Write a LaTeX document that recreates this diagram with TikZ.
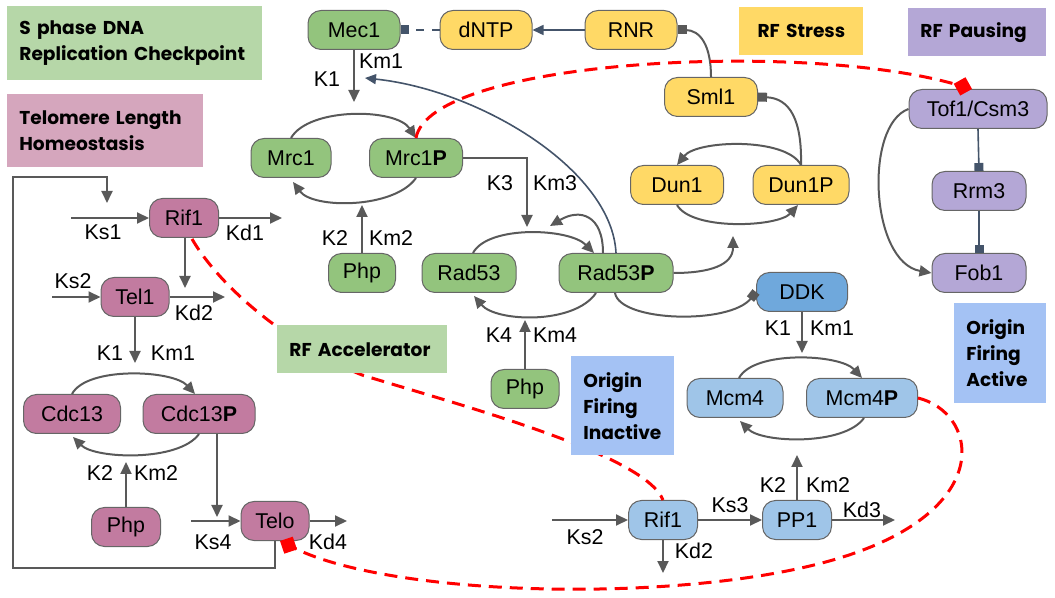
\documentclass[tikz,border=0pt]{standalone}
\usepackage{fontspec}
\setmainfont{Liberation Sans}
\newfontfamily\headfont{Poppins}
\usetikzlibrary{arrows.meta,calc,positioning}

\definecolor{nodegreen}{HTML}{93C47D}
\definecolor{nodeyellow}{HTML}{FFD966}
\definecolor{nodepink}{HTML}{C27BA0}
\definecolor{nodepurple}{HTML}{B4A7D6}
\definecolor{nodelblue}{HTML}{9FC5E8}
\definecolor{nodedblue}{HTML}{6FA8DC}
\definecolor{boxgreen}{HTML}{B6D7A8}
\definecolor{boxpink}{HTML}{D5A6BD}
\definecolor{boxblue}{HTML}{A4C2F4}
\definecolor{edgegray}{HTML}{666666}
\definecolor{arrowgray}{HTML}{595959}
\definecolor{slate}{HTML}{44546A}
\definecolor{crossred}{HTML}{FF0000}

\tikzset{
  species/.style={draw=edgegray, line width=0.5pt, rounded corners=6.5pt,
    minimum height=19.5pt, inner sep=0pt, font=\fontsize{10.7}{12}\selectfont},
  grn/.style={species, fill=nodegreen},
  ylw/.style={species, fill=nodeyellow},
  pnk/.style={species, fill=nodepink},
  prp/.style={species, fill=nodepurple},
  lbl/.style={species, fill=nodelblue},
  dbl/.style={species, fill=nodedblue},
  module/.style={anchor=north west, inner xsep=6pt, inner ysep=0pt, align=left,
    font=\headfont\fontsize{9.3}{13}\selectfont\bfseries},
  rate/.style={inner sep=0pt, font=\fontsize{10.7}{12}\selectfont},
  flow/.style={draw=arrowgray, line width=1pt, -{Triangle[length=6pt,width=5.5pt]}},
  hold/.style={draw=arrowgray, line width=1pt, -{Square[length=4.5pt,width=4.5pt]}},
  blueflow/.style={draw=slate, line width=0.8pt, -{Triangle[length=5.5pt,width=5pt]}},
  bluehold/.style={draw=slate, line width=0.8pt, -{Square[length=4pt,width=4.5pt]}},
  crosstalk/.style={draw=crossred, line width=1.5pt, dash pattern=on 6.5pt off 4pt},
  redtip/.style={-{Diamond[length=9.5pt,width=9.5pt]}},
}

\begin{document}
\begin{tikzpicture}[x=0.5pt,y=-0.5pt]
\useasboundingbox (0,0) rectangle (1055,598);

% S phase checkpoint
\node[grn, minimum width=46pt] (mec) at (354,30) {Mec1};
\node[grn, minimum width=40pt] (mrc) at (291,158) {Mrc1};
\node[grn, minimum width=46.5pt] (mrcp) at (416,158) {Mrc1\textbf{P}};
\node[grn, minimum width=33.5pt] (phpa) at (362,273) {Php};
\node[grn, minimum width=47pt] (rad) at (469,273) {Rad53};
\node[grn, minimum width=57pt] (radp) at (616,273) {Rad53\textbf{P}};
\node[grn, minimum width=34pt] (phpb) at (525,389) {Php};

% RF stress
\node[ylw, minimum width=46pt] (dntp) at (486,30) {dNTP};
\node[ylw, minimum width=46pt] (rnr) at (631,30) {RNR};
\node[ylw, minimum width=46.5pt] (sml) at (711,97) {Sml1};
\node[ylw, minimum width=46.5pt] (dun) at (677,185) {Dun1};
\node[ylw, minimum width=48pt] (dunp) at (801,185) {Dun1P};

% RF pausing
\node[prp, minimum width=69pt] (tof) at (978,109) {Tof1/Csm3};
\node[prp, minimum width=47pt] (rrm) at (979,191) {Rrm3};
\node[prp, minimum width=47pt] (fob) at (979,273) {Fob1};

% Origin firing
\node[dbl, minimum width=45.5pt] (ddk) at (802,292) {DDK};
\node[lbl, minimum width=48pt] (mcm) at (735,398) {Mcm4};
\node[lbl, minimum width=55.5pt] (mcmp) at (862,398) {Mcm4\textbf{P}};
\node[lbl, minimum width=34.5pt] (rifb) at (663,520) {Rif1};
\node[lbl, minimum width=34.5pt] (pp) at (797,520) {PP1};

% Telomere length
\node[pnk, minimum width=34.5pt] (rifa) at (184,218) {Rif1};
\node[pnk, minimum width=34pt] (tel) at (135,297) {Tel1};
\node[pnk, minimum width=48.5pt] (cdc) at (72,414) {Cdc13};
\node[pnk, minimum width=56pt] (cdcp) at (199,414) {Cdc13\textbf{P}};
\node[pnk, minimum width=34.5pt] (phpc) at (126,527) {Php};
\node[pnk, minimum width=34pt] (telo) at (275,521) {Telo};

% free ends
\coordinate (mrcin) at (354,102);
\coordinate (mrcout) at (362,205);
\coordinate (radin) at (527,227);
\coordinate (radout) at (525,320);
\coordinate (radself) at (550,226);
\coordinate (mecin) at (365,78);
\coordinate (dunin) at (733,236);
\coordinate (mcmin) at (802,353);
\coordinate (mcmout) at (797,455);
\coordinate (ksb) at (552,520);
\coordinate (kdb) at (663,573);
\coordinate (kdc) at (895,520);
\coordinate (ksa) at (71,218);
\coordinate (kda) at (282,218);
\coordinate (telin) at (185,288);
\coordinate (kse) at (52,297);
\coordinate (kde) at (225,297);
\coordinate (cdcin) at (135,363);
\coordinate (cdcout) at (126,462);
\coordinate (teloin) at (217,517);
\coordinate (ksf) at (191,521);
\coordinate (kdf) at (347,521);
\coordinate (loopbl) at (13,568);
\coordinate (looptl) at (13,177);
\coordinate (rifin) at (107,203);

% Mec1 / Mrc1 cycle
\draw[flow] (mec.south) -- (mrcin);
\draw[flow] (mrc.north) .. controls +(18,-31) and +(-20,-30) .. (mrcp.north);
\draw[flow] (mrcp.south) .. controls +(-22,31) and +(20,27) .. ($(mrc.south)+(2,4)$);
\draw[flow] (phpa.north) -- (mrcout);
\node[rate] (k1a) at (327,79) {K1};
\node[rate] (km1a) at (381,61) {Km1};
\node[rate] (k2a) at (335,238) {K2};
\node[rate] (km2a) at (391,238) {Km2};

% Rad53 cycle
\draw[flow] (mrcp.east) -| (radin);
\draw[flow] ($(rad.north)+(4,0)$) .. controls +(15,-28) and +(-25,-25) .. ($(radp.north)+(-22,0)$);
\draw[flow] ($(radp.south)+(-20,0)$) .. controls +(-22,32) and +(22,26) .. ($(rad.south)+(5,3)$);
\draw[flow] (phpb.north) -- (radout);
\draw[flow] ($(radp.north)+(-13,0)$) .. controls (603,215) and (580,208) .. (radself);
\draw[blueflow] (radp.north) .. controls (612,170) and (480,90) .. (mecin);
\draw[flow] (radp.east) .. controls (710,273) and (733,265) .. (dunin);
\draw[hold] ($(radp.south)+(-1,0)$) .. controls (620,322) and (730,325) .. (ddk.west);
\node[rate] (k3a) at (500,183) {K3};
\node[rate] (km3a) at (555,183) {Km3};
\node[rate] (k4a) at (499,335) {K4};
\node[rate] (km4a) at (555,335) {Km4};

% Dun1 cycle and RNR
\draw[flow] (dunp.north) .. controls +(-15,-28) and +(20,-25) .. (dun.north);
\draw[flow] (dun.south) .. controls +(15,26) and +(-20,22) .. ($(dunp.south)+(-3,0)$);
\draw[hold] (dunp.north) .. controls (802,120) and (790,98) .. (sml.east);
\draw[hold] (sml.north) .. controls (711,45) and (700,30) .. (rnr.east);
\draw[blueflow] (rnr.west) -- (dntp.east);
\draw[bluehold, dash pattern=on 4pt off 4pt] (dntp.west) -- (mec.east);

% Tof1 / Rrm3 / Fob1
\draw[bluehold] (tof.south) -- (rrm.north);
\draw[bluehold] (rrm.south) -- (fob.north);
\draw[flow] (tof.west) .. controls (864,125) and (870,262) .. (fob.west);

% Mcm4 cycle
\draw[flow] (ddk.south) -- (mcmin);
\draw[flow] ($(mcm.north)+(4,0)$) .. controls +(15,-28) and +(-22,-24) .. (mcmp.north);
\draw[flow] ($(mcmp.south)+(2,0)$) .. controls +(-20,28) and +(22,22) .. ($(mcm.south)+(5,3)$);
\draw[flow] (pp.north) -- (mcmout);
\draw[flow] (ksb) -- (rifb.west);
\draw[flow] (rifb.east) -- (pp.west);
\draw[flow] (rifb.south) -- (kdb);
\draw[flow] (pp.east) -- (kdc);
\node[rate] (k1b) at (778,328) {K1};
\node[rate] (km1b) at (832,328) {Km1};
\node[rate] (k2b) at (773,485) {K2};
\node[rate] (km2b) at (828,485) {Km2};
\node[rate] (ks2b) at (585,537) {Ks2};
\node[rate] (ks3b) at (730,505) {Ks3};
\node[rate] (kd2b) at (694,551) {Kd2};
\node[rate] (kd3b) at (862,510) {Kd3};

% Telomere
\draw[flow] (ksa) -- (rifa.west);
\draw[flow] (rifa.east) -- (kda);
\draw[flow] (rifa.south -| telin) -- (telin);
\draw[flow] (kse) -- (tel.west);
\draw[flow] (tel.east) -- (kde);
\draw[flow] (tel.south) -- (cdcin);
\draw[flow] (cdc.north) .. controls +(15,-28) and +(-22,-24) .. ($(cdcp.north)+(-4,0)$);
\draw[flow] (cdcp.south) .. controls +(-20,28) and +(22,22) .. ($(cdc.south)+(1,3)$);
\draw[flow] (phpc.north) -- (cdcout);
\draw[flow] (cdcp.south -| teloin) -- (teloin);
\draw[flow] (ksf) -- (telo.west);
\draw[flow] (telo.east) -- (kdf);
\draw[flow] (telo.south) |- (loopbl) -- (looptl) -| (rifin);
\node[rate] (ks1a) at (103,232) {Ks1};
\node[rate] (kd1a) at (245,233) {Kd1};
\node[rate] (ks2a) at (73,281) {Ks2};
\node[rate] (kd2a) at (194,313) {Kd2};
\node[rate] (k1c) at (110,353) {K1};
\node[rate] (km1c) at (173,353) {Km1};
\node[rate] (k2c) at (100,473) {K2};
\node[rate] (km2c) at (156,473) {Km2};
\node[rate] (ks4a) at (213,542) {Ks4};
\node[rate] (kd4a) at (328,542) {Kd4};

% cross-talk
\draw[crosstalk, redtip] (mrcp.north) .. controls (430,60) and (800,40) .. ($(tof.north)+(-6,0)$);
\draw[crosstalk] ($(rifa.south)+(8,1)$) .. controls (225,295) and (300,350) .. (362,375)
  .. controls (470,408) and (645,455) .. (rifb.north);
\draw[crosstalk, redtip] (mcmp.east) .. controls (975,412) and (995,500) .. (863,550)
  .. controls (720,605) and (400,600) .. ($(telo.south)+(5,0)$);

% Modules
\node[module, fill=boxgreen, text width=115.5pt, minimum height=37pt] (sphase) at (7,6)
  {S phase DNA\\Replication Checkpoint};
\node[module, fill=boxpink, text width=86pt, minimum height=36.5pt] (telomere) at (7,94)
  {Telomere Length\\Homeostasis};
\node[module, fill=nodeyellow, text width=50pt, minimum height=24pt, align=center] (rfstress) at (739,7)
  {RF Stress};
\node[module, fill=nodepurple, text width=57pt, minimum height=24pt] (rfpausing) at (908,8)
  {RF Pausing};
\node[module, fill=boxgreen, text width=73pt, minimum height=24pt] (rfaccel) at (277,325)
  {RF Accelerator};
\node[module, fill=boxblue, text width=39.5pt, minimum height=49.5pt] (inactive) at (571,356)
  {Origin\\Firing\\Inactive};
\node[module, fill=boxblue, text width=34pt, minimum height=50pt] (active) at (954,303)
  {Origin\\Firing\\Active};
\end{tikzpicture}
\end{document}
